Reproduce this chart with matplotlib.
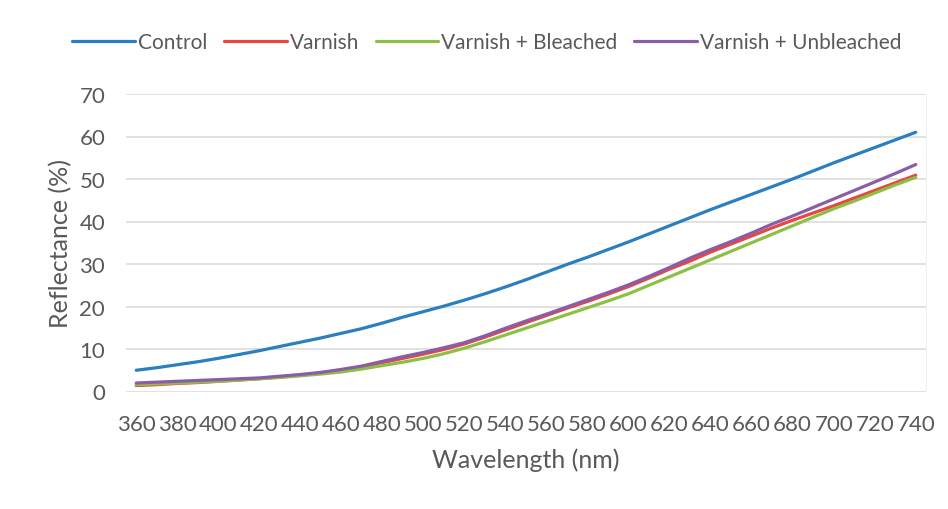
import numpy as np
import matplotlib
matplotlib.use("Agg")
import matplotlib.pyplot as plt

# wavelength (nm), one reading every 10 nm
wavelength = list(range(360, 750, 10))

control = [5.0, 5.6, 6.3, 7.0, 7.8, 8.7, 9.6, 10.6, 11.6, 12.6,
           13.7, 14.8, 16.1, 17.5, 18.8, 20.1, 21.5, 23.0, 24.6, 26.3,
           28.1, 29.9, 31.6, 33.4, 35.2, 37.1, 39.0, 40.9, 42.8, 44.6,
           46.4, 48.2, 50.0, 51.9, 53.8, 55.6, 57.4, 59.2, 61.0]

varnish = [1.4, 1.6, 1.9, 2.1, 2.4, 2.7, 3.0, 3.4, 3.8, 4.4,
           5.0, 5.8, 6.8, 7.8, 8.8, 9.9, 11.2, 12.8, 14.5, 16.2,
           17.9, 19.6, 21.2, 22.9, 24.7, 26.7, 28.8, 30.7, 32.8, 34.7,
           36.6, 38.5, 40.3, 42.0, 43.7, 45.5, 47.3, 49.1, 50.9]

bleached = [1.6, 1.8, 2.0, 2.2, 2.4, 2.7, 3.0, 3.3, 3.7, 4.1,
            4.6, 5.3, 6.1, 6.9, 7.8, 8.9, 10.2, 11.7, 13.3, 14.9,
            16.5, 18.1, 19.7, 21.3, 23.0, 25.0, 27.0, 29.0, 31.0, 33.0,
            35.0, 37.0, 39.0, 41.0, 43.0, 44.8, 46.7, 48.6, 50.4]

unbleached = [2.0, 2.2, 2.4, 2.6, 2.8, 3.0, 3.2, 3.6, 4.0, 4.5,
              5.2, 6.0, 7.1, 8.2, 9.2, 10.3, 11.5, 13.1, 14.9, 16.6,
              18.2, 19.9, 21.6, 23.3, 25.1, 27.1, 29.2, 31.4, 33.4, 35.3,
              37.3, 39.4, 41.3, 43.3, 45.3, 47.3, 49.3, 51.3, 53.4]

labels = ['Control', 'Varnish', 'Varnish + Bleached', 'Varnish + Unbleached']
colors = ['#2a7fc1', '#e8473f', '#8bbf45', '#8b5ca8']

plt.rcParams['font.family'] = ['Lato', 'DejaVu Sans']
txt = '#595959'

fig = plt.figure(figsize=(9.48, 5.10), dpi=100)
ax = fig.add_axes([126/948, 1 - 392.5/510, 800/948, 297.5/510])

series = [control, varnish, bleached, unbleached]
for vals, lab, col in zip(series, labels, colors):
    ax.plot(wavelength, vals, color=col, lw=2.3, label=lab, solid_capstyle='round')

ax.set_xlim(355, 745)
ax.set_ylim(0, 70)
ax.set_xticks(range(360, 741, 20))
ax.set_yticks(range(0, 71, 10))
ax.grid(axis='y', color='#d9d9d9', lw=1.1)
ax.set_axisbelow(True)
for s in ['top', 'left', 'bottom']:
    ax.spines[s].set_visible(False)
ax.spines['right'].set_color('#f0f0f0')
ax.tick_params(length=0, labelsize=16, colors=txt)
ax.tick_params(axis='x', pad=16)
ax.tick_params(axis='y', pad=15)

ax.set_xlabel('Wavelength (nm)', fontsize=18, color=txt, labelpad=10)
ax.set_ylabel('Reflectance (%)', fontsize=18, color=txt, labelpad=5)

fig.legend(loc='center', bbox_to_anchor=(487/948, 1 - 43/510), ncol=4,
           frameon=False, fontsize=15, handlelength=3.0, handletextpad=0.15,
           columnspacing=0.8, labelcolor=txt)

fig.savefig('out.png', dpi=100, facecolor='white')
